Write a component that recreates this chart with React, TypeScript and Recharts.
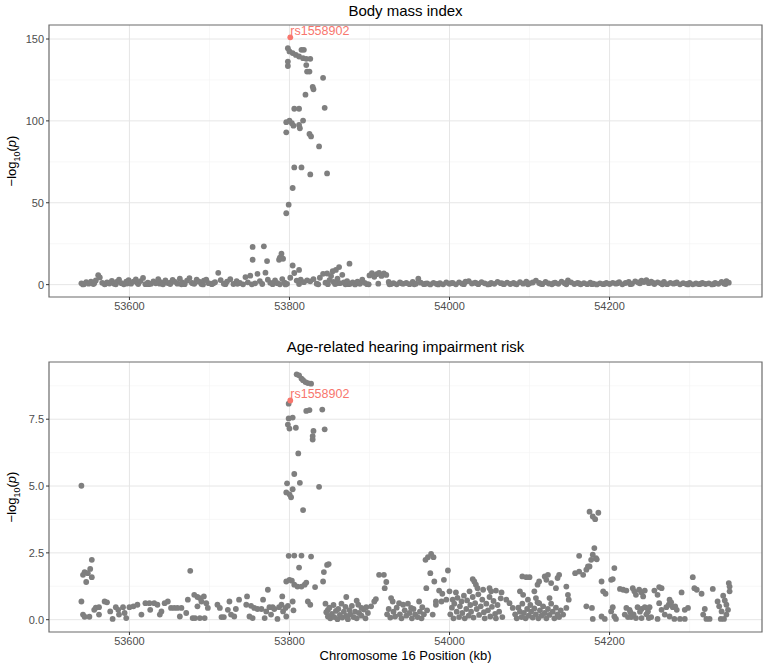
import React from "react";
import {
  ScatterChart,
  Scatter,
  XAxis,
  YAxis,
  CartesianGrid,
  ReferenceArea,
} from "recharts";

// chromosome 16 position (kb), -log10(p)
const leadSnp = "rs1558902";
const leadPos = 53801;
const leadBmi = 151;
const leadHearing = 8.2;

const xTicks = [53600, 53800, 54000, 54200];
const xMinor = [53700, 53900, 54100, 54300];
const bmiTicks = [0, 50, 100, 150];
const bmiMinor = [25, 75, 125];
const hearingTicks = [0, 2.5, 5, 7.5];
const hearingMinor = [1.25, 3.75, 6.25, 8.75];

const bmiPeak: [number, number][] = [
  [53798, 144.4], [53800, 142.4], [53804, 141.4], [53808, 140.3], [53815, 143.4], [53818, 143.4],
  [53812, 139.3], [53817, 138.3], [53821, 137.9], [53826, 137.9], [53798, 136.2], [53798, 133.5],
  [53821, 134.1], [53822, 130.1], [53825, 130.1], [53842, 126.3], [53829, 120.8], [53830, 119.3],
  [53820, 116], [53806, 107.4], [53812, 107.4], [53844, 108], [53800, 100.2], [53796, 99.2],
  [53803, 98.6], [53805, 97.1], [53817, 100.2], [53812, 97.5], [53813, 95.5], [53796, 93],
  [53825, 92], [53827, 90.5], [53837, 84.4], [53806, 71.6], [53815, 71.6], [53826, 67.3],
  [53847, 67.9], [53804, 59], [53799, 48.8], [53796, 43.6], [53754, 23], [53768, 23.4],
  [53754, 15.2], [53772, 14.4], [53790, 18.9], [53788, 16.5], [53792, 15.8], [53787, 15.2],
  [53804, 11.7], [53812, 9], [53875, 12.8], [53862, 10.7], [53858, 9], [53854, 8.2], [53847, 6.8],
];

const bmiBackground: [number, number][] = [
  [53540, 0.8], [53543, 0.3], [53546, 1.5], [53549, 0.6], [53552, 1.9], [53555, 0.4], [53558, 2.6],
  [53561, 5.8], [53563, 4.4], [53566, 1.1], [53569, 0.2], [53572, 1.4], [53575, 0.7], [53578, 2.3],
  [53581, 0.5], [53584, 1.6], [53587, 3.1], [53590, 0.9], [53593, 0.2], [53596, 1.8], [53599, 2.7],
  [53602, 0.6], [53605, 1.9], [53608, 3.2], [53611, 0.4], [53614, 2.2], [53617, 4.1], [53620, 0.3],
  [53623, 1.2], [53627, 0.5], [53630, 2.0], [53633, 0.8], [53636, 3.4], [53639, 1.5], [53642, 0.2],
  [53645, 2.6], [53648, 1.0], [53651, 0.4], [53654, 2.9], [53657, 1.7], [53660, 0.6], [53663, 3.6],
  [53666, 1.3], [53669, 0.3], [53672, 2.4], [53675, 4.0], [53678, 1.1], [53681, 0.5], [53684, 3.0],
  [53687, 1.8], [53690, 0.4], [53693, 2.5], [53696, 3.1], [53699, 0.9],
  [53703, 0.3], [53707, 1.5], [53711, 7.2], [53714, 2.8], [53718, 0.6], [53722, 1.9], [53726, 3.3],
  [53730, 0.4], [53734, 2.1], [53738, 1.0], [53742, 0.2], [53745, 4.6], [53748, 1.4], [53751, 5.5],
  [53757, 0.8], [53760, 6.6], [53763, 2.2], [53766, 0.4], [53770, 7.3], [53773, 3.0], [53776, 1.1],
  [53779, 0.3], [53782, 2.6], [53785, 0.9], [53788, 0.2], [53791, 3.4], [53794, 1.2], [53797, 0.5],
  [53801, 4.2], [53806, 7.1], [53809, 2.5], [53814, 3.1], [53818, 1.5], [53822, 2.6], [53826, 2.0],
  [53830, 3.4], [53834, 0.6], [53838, 4.2], [53842, 6.6], [53845, 1.2], [53848, 0.3], [53850, 2.8],
  [53852, 5.3], [53855, 1.7], [53857, 0.4], [53860, 3.6], [53863, 0.9], [53866, 6.0], [53868, 1.3],
  [53870, 0.2], [53872, 2.1], [53876, 0.6], [53879, 1.4], [53882, 0.1], [53885, 1.9], [53888, 0.5],
  [53891, 3.0], [53894, 1.1], [53897, 0.3],
  [53900, 5.6], [53903, 7.0], [53906, 4.8], [53909, 6.4], [53912, 7.1], [53915, 5.3], [53918, 6.8],
  [53921, 5.9], [53924, 1.6], [53927, 0.4], [53930, 0.9], [53934, 0.2], [53938, 1.3], [53942, 0.5],
  [53946, 1.0], [53950, 0.3], [53954, 1.6], [53958, 0.6], [53961, 3.6], [53964, 1.2], [53968, 0.3],
  [53972, 0.8], [53976, 0.1], [53980, 1.1], [53984, 0.4], [53988, 0.9], [53992, 0.2], [53996, 1.3],
  [54000, 0.5], [54004, 1.0], [54008, 0.2], [54012, 1.4], [54016, 0.6], [54020, 1.8], [54024, 2.2],
  [54028, 0.7], [54032, 1.2], [54036, 0.3], [54040, 1.5], [54044, 0.8], [54048, 0.1], [54052, 1.1],
  [54056, 0.5], [54060, 1.7], [54064, 0.9], [54068, 0.3], [54072, 1.2], [54076, 0.4], [54080, 1.0],
  [54084, 0.2], [54088, 1.5], [54092, 0.6], [54096, 1.9],
  [54100, 0.8], [54104, 1.3], [54108, 2.5], [54112, 1.0], [54116, 0.3], [54120, 1.6], [54124, 0.7],
  [54128, 0.2], [54132, 1.2], [54136, 0.5], [54140, 1.8], [54144, 0.9], [54148, 2.6], [54152, 1.4],
  [54156, 0.4], [54160, 1.1], [54164, 0.2], [54168, 0.9], [54172, 0.3], [54176, 1.2], [54180, 0.6],
  [54184, 0.1], [54188, 0.8], [54192, 0.3], [54196, 1.0],
  [54200, 0.4], [54204, 1.1], [54208, 0.6], [54212, 1.5], [54216, 0.2], [54220, 1.0], [54224, 1.7],
  [54228, 0.5], [54232, 2.0], [54236, 1.3], [54240, 2.4], [54243, 1.6], [54246, 2.8], [54249, 0.9],
  [54252, 1.9], [54256, 0.4], [54260, 1.4], [54264, 0.8], [54268, 1.7], [54272, 0.3], [54276, 1.1],
  [54280, 0.6], [54284, 1.3], [54288, 0.2], [54292, 0.9], [54296, 0.4], [54300, 1.0], [54304, 0.2],
  [54308, 0.7], [54312, 0.3], [54316, 1.1], [54320, 0.4], [54324, 0.8], [54328, 0.1], [54332, 1.0],
  [54336, 0.5], [54340, 1.6], [54343, 0.7], [54346, 2.1], [54349, 1.2],
];

const bmiBaselineExtra: [number, number][] = [
  [53542, 0.1], [53556, 0.9], [53570, 0.5], [53583, 0.2], [53597, 0.7], [53610, 1.1], [53624, 0.3],
  [53638, 0.6], [53652, 1.4], [53665, 0.2], [53679, 0.8], [53692, 0.1], [53705, 0.9], [53720, 0.3],
  [53735, 0.5], [53753, 0.2], [53780, 1.0], [53795, 0.1], [53812, 0.4], [53836, 0.2], [53859, 0.8],
  [53874, 0.3], [53886, 0.9], [53899, 0.2], [53911, 0.6], [53925, 0.2], [53940, 0.8], [53956, 0.2],
  [53970, 0.6], [53986, 0.1], [54002, 0.9], [54018, 0.3], [54034, 0.8], [54050, 0.3], [54066, 0.7],
  [54082, 0.5], [54098, 0.2], [54114, 0.6], [54130, 0.9], [54146, 0.2], [54162, 0.7], [54178, 0.3],
  [54194, 0.5], [54210, 0.9], [54226, 0.3], [54238, 0.8], [54254, 1.2], [54266, 0.2], [54282, 0.9],
  [54298, 0.1], [54314, 0.6], [54330, 0.3], [54345, 0.4],
];

const hearingPeak: [number, number][] = [
  [53799, 8.08], [53809, 9.18], [53812, 9.14], [53815, 9.02], [53817, 8.96], [53820, 8.89],
  [53823, 8.85], [53827, 8.83], [53821, 7.81], [53825, 7.84], [53841, 7.86], [53799, 7.53],
  [53804, 7.56], [53798, 7.3], [53800, 7.15], [53808, 7.18], [53830, 7.06], [53829, 6.87],
  [53829, 6.74], [53844, 7.12], [53811, 6.22], [53806, 5.45], [53797, 5.1], [53813, 5.12],
  [53796, 4.76], [53800, 4.69], [53804, 4.88], [53802, 4.58], [53837, 4.97], [53817, 4.1],
];

const hearingBackground: [number, number][] = [
  [53540, 5.01],
  [53553, 2.24], [53551, 1.9], [53544, 1.78], [53542, 1.68], [53548, 1.74], [53553, 1.59], [53546, 1.41],
  [53540, 0.68], [53542, 0.19], [53544, 0.11], [53550, 0.11], [53556, 0.37], [53558, 0.45], [53562, 0.47],
  [53569, 0.68], [53572, 0.65], [53562, 0.19], [53576, 0.31], [53579, 0.03], [53583, 0.47], [53586, 0.37],
  [53587, 0.19], [53592, 0.47], [53594, 0.25], [53596, 0.06], [53600, 0.47], [53605, 0.5], [53610, 0.56],
  [53615, 0.19], [53620, 0.62], [53625, 0.62], [53626, 0.37], [53631, 0.62], [53635, 0.56], [53638, 0.19],
  [53640, 0.31], [53644, 0.62], [53648, 0.68], [53652, 0.44], [53656, 0.44], [53660, 0.44], [53663, 0.12],
  [53665, 0.44], [53671, 0.25], [53673, 0.75], [53676, 1.83], [53679, 0.06], [53681, 0.93], [53685, 0.85],
  [53688, 0.81], [53690, 0.68], [53685, 0.5], [53693, 0.87], [53696, 0.62], [53698, 0.44], [53682, 0.06],
  [53688, 0.06], [53694, 0.06], [53710, 0.56], [53713, 0.44], [53715, 0.1], [53718, 0.1], [53723, 0.37],
  [53725, 0.68], [53727, 0.19], [53731, 0.12], [53733, 0.4], [53737, 0.75],
  [53747, 0.87], [53746, 0.56], [53752, 0.52], [53756, 0.44], [53760, 0.4], [53765, 0.4], [53767, 0.75],
  [53773, 1.12], [53750, 0.12], [53754, 0.06], [53769, 0.06], [53771, 0.31], [53775, 0.47], [53779, 0.47],
  [53777, 0.19], [53781, 0.4], [53785, 0.03], [53787, 0.47], [53790, 0.56], [53791, 0.87], [53792, 0.31],
  [53795, 0.44], [53796, 0.12], [53798, 0.52], [53804, 0.68], [53805, 0.35], [53796, 1.43], [53800, 1.49],
  [53803, 1.46], [53806, 1.31], [53810, 1.24], [53815, 1.24], [53819, 1.31], [53821, 1.39], [53799, 2.39],
  [53806, 2.4], [53815, 2.4], [53827, 2.36], [53812, 1.95], [53823, 0.68], [53826, 0.56], [53832, 1.22],
  [53842, 1.43], [53843, 1.78], [53847, 2.05], [53849, 2.08], [53845, 0.6], [53848, 0.37],
  [53846, 0.28], [53848, 0.12], [53850, 0.45], [53851, 0.05], [53853, 0.22], [53855, 0.55], [53856, 0.1],
  [53858, 0.33], [53860, 0.02], [53861, 0.4], [53863, 0.18], [53865, 0.6], [53866, 0.08], [53868, 0.3],
  [53870, 0.48], [53871, 0.14], [53873, 0.02], [53875, 0.36], [53876, 0.2], [53878, 0.52], [53880, 0.1],
  [53882, 0.3], [53884, 0.05], [53887, 0.25], [53890, 0.15], [53893, 0.38], [53895, 0.05],
  [53871, 0.85], [53884, 0.71], [53886, 0.56], [53890, 0.44], [53896, 0.47], [53902, 0.5], [53906, 0.68],
  [53908, 0.77], [53898, 0.25], [53912, 1.68], [53918, 1.68], [53921, 1.41], [53919, 1.18], [53927, 0.81],
  [53929, 0.68], [53937, 0.62], [53942, 0.56], [53948, 0.6], [53952, 0.44], [53962, 0.68], [53966, 0.47],
  [53922, 0.2], [53924, 0.4], [53926, 0.08], [53930, 0.3], [53932, 0.12], [53934, 0.45], [53938, 0.2],
  [53940, 0.05], [53944, 0.35], [53946, 0.15], [53950, 0.25], [53953, 0.05], [53955, 0.4], [53957, 0.2],
  [53960, 0.1], [53963, 0.3], [53965, 0.05], [53968, 0.2], [53972, 0.35],
  [53971, 1.18], [53976, 1.74], [53970, 2.24], [53973, 2.34], [53977, 2.46], [53980, 2.34], [53981, 1.43],
  [53983, 0.68], [53979, 0.19], [53993, 1.49], [53998, 1.84], [53987, 1.09], [53991, 0.97], [54000, 1.06],
  [53983, 0.56], [53990, 0.68], [53996, 0.75], [54004, 0.75], [54008, 1.02],
  [54001, 0.2], [54003, 0.45], [54005, 0.05], [54006, 0.6], [54009, 0.3], [54010, 0.82], [54012, 0.1],
  [54013, 0.5], [54015, 0.68], [54016, 0.25], [54018, 0.9], [54019, 0.05], [54021, 0.4], [54022, 0.72],
  [54024, 0.15], [54026, 0.55], [54027, 0.3], [54029, 0.85], [54030, 0.08], [54032, 0.62], [54034, 0.4],
  [54036, 0.95], [54037, 0.18], [54039, 0.5], [54041, 0.75], [54043, 0.28], [54044, 0.05], [54046, 0.6],
  [54048, 0.35], [54050, 0.85], [54051, 0.12], [54053, 0.48], [54055, 0.7], [54057, 0.22], [54058, 0.05],
  [54060, 0.55], [54062, 0.3], [54064, 0.8], [54066, 0.1],
  [54029, 1.52], [54031, 1.43], [54033, 1.31], [54035, 1.18], [54025, 1.06], [54042, 1.12], [54050, 1.18],
  [54052, 1.06], [54058, 1.09], [54065, 1.02], [54071, 0.75], [54075, 0.62], [54079, 0.44], [54091, 1.62],
  [54096, 1.59], [54100, 1.59], [54088, 1.06], [54092, 0.93], [54098, 0.75], [54106, 1.06], [54110, 1.31],
  [54112, 1.43], [54119, 1.62], [54123, 1.68], [54121, 1.49], [54127, 1.37], [54135, 1.56], [54137, 1.68],
  [54133, 1.18], [54125, 0.81], [54108, 0.81], [54112, 0.62], [54146, 1.24], [54148, 0.93], [54149, 0.75],
  [54146, 0.44], [54142, 0.19],
  [54082, 0.2], [54084, 0.05], [54086, 0.45], [54088, 0.3], [54090, 0.1], [54091, 0.6], [54093, 0.25],
  [54095, 0.05], [54097, 0.4], [54099, 0.15], [54101, 0.55], [54102, 0.3], [54104, 0.08], [54106, 0.42],
  [54108, 0.2], [54110, 0.65], [54111, 0.05], [54113, 0.35], [54115, 0.15], [54117, 0.5], [54119, 0.25],
  [54121, 0.05], [54123, 0.4], [54125, 0.18], [54127, 0.6], [54129, 0.3], [54131, 0.05], [54133, 0.45],
  [54135, 0.2], [54137, 0.1], [54139, 0.35],
  [54157, 1.74], [54162, 1.8], [54167, 1.68], [54162, 2.39], [54171, 1.87], [54173, 1.99], [54177, 2.24],
  [54179, 2.43], [54181, 2.68], [54171, 0.5], [54178, 0.44], [54179, 0.03], [54175, 4.04], [54179, 3.86],
  [54182, 3.76], [54186, 4.0], [54184, 2.26], [54183, 2.3], [54206, 1.93], [54175, 1.99], [54190, 1.43],
  [54202, 1.49], [54204, 1.52], [54192, 1.06], [54195, 0.97], [54190, 0.12], [54194, 0.03], [54204, 0.47],
  [54202, 0.31], [54206, 0.12], [54208, 0.03], [54213, 1.15], [54217, 1.12], [54221, 1.09], [54229, 1.18],
  [54231, 1.06], [54233, 0.93], [54237, 1.12], [54240, 1.02], [54244, 1.09], [54242, 0.87], [54256, 1.09],
  [54262, 1.22], [54265, 1.18], [54260, 0.93], [54221, 0.44], [54225, 0.37], [54219, 0.19], [54223, 0.1],
  [54227, 0.1], [54235, 0.47], [54240, 0.4], [54244, 0.47], [54248, 0.31], [54249, 0.06], [54250, 0.47],
  [54233, 0.06], [54240, 0.06], [54226, 0.28], [54230, 0.2], [54238, 0.3], [54246, 0.2], [54252, 0.1],
  [54262, 0.62], [54265, 0.37], [54260, 0.03], [54269, 0.19], [54271, 0.47], [54275, 0.75], [54274, 0.56],
  [54277, 0.65], [54279, 0.47], [54282, 0.5], [54284, 0.37], [54275, 0.12], [54281, 0.03], [54288, 0.03],
  [54294, 0.03], [54290, 1.02], [54294, 0.37], [54298, 0.44], [54304, 1.59], [54306, 1.18], [54309, 1.12],
  [54315, 0.97], [54319, 0.4], [54317, 0.19], [54321, 0.03], [54325, 0.03], [54329, 1.15], [54335, 0.68],
  [54337, 0.5], [54340, 0.31], [54342, 0.9], [54344, 0.72], [54346, 0.56], [54348, 0.37], [54349, 1.37],
  [54350, 1.24], [54350, 1.06], [54346, 0.19], [54339, 0.03], [54343, 0.03],
];

const FONT = '"Liberation Sans", Arial, Helvetica, sans-serif';
const GREY = "#7f7f7f";
const LEAD = "#F8766D";
const xDomain: [number, number] = [53499.5, 54390.5];

const toRows = (pts: [number, number][]) => pts.map(([x, y]) => ({ x, y }));

const Dot = (p: any) => <circle cx={p.cx} cy={p.cy} r={2.9} fill={GREY} />;

const LeadDot = (p: any) => (
  <g>
    <circle cx={p.cx} cy={p.cy} r={2.9} fill={LEAD} />
    <text x={p.cx} y={p.cy - 2} fill={LEAD} fontSize={12.5} fontFamily={FONT}>
      {leadSnp}
    </text>
  </g>
);

function Panel({
  rows,
  leadY,
  yDomain,
  yTicks,
  yMinor,
  fmt,
  height,
  margin,
}: {
  rows: { x: number; y: number }[];
  leadY: number;
  yDomain: [number, number];
  yTicks: number[];
  yMinor: number[];
  fmt: (v: number) => string;
  height: number;
  margin: { top: number; right: number; bottom: number; left: number };
}) {
  const tick = { fill: "#4d4d4d", fontSize: 11, fontFamily: FONT };
  return (
    <ScatterChart width={767} height={height} margin={margin}>
      <CartesianGrid verticalValues={xMinor} horizontalValues={yMinor} stroke="#f3f3f3" strokeWidth={0.6} />
      <CartesianGrid verticalValues={xTicks} horizontalValues={yTicks} stroke="#e6e6e6" strokeWidth={1} />
      <XAxis
        type="number"
        dataKey="x"
        domain={xDomain}
        ticks={xTicks}
        allowDataOverflow
        interval={0}
        height={20}
        tickSize={3}
        tick={tick}
        axisLine={false}
        tickLine={{ stroke: "#333" }}
      />
      <YAxis
        type="number"
        dataKey="y"
        domain={yDomain}
        ticks={yTicks}
        allowDataOverflow
        interval={0}
        width={30}
        tickSize={3}
        tick={tick}
        tickFormatter={fmt}
        axisLine={false}
        tickLine={{ stroke: "#333" }}
      />
      <ReferenceArea
        x1={xDomain[0]}
        x2={xDomain[1]}
        y1={yDomain[0]}
        y2={yDomain[1]}
        fill="none"
        fillOpacity={0}
        stroke="#6b6b6b"
        strokeWidth={1.2}
        ifOverflow="visible"
      />
      <Scatter data={rows} shape={Dot} isAnimationActive={false} />
      <Scatter data={[{ x: leadPos, y: leadY }]} shape={LeadDot} isAnimationActive={false} />
    </ScatterChart>
  );
}

function YTitle({ top }: { top: number }) {
  return (
    <div
      style={{
        position: "absolute",
        left: 13,
        top,
        transform: "translate(-50%, -50%) rotate(-90deg)",
        whiteSpace: "nowrap",
        fontSize: 13,
        fontFamily: FONT,
        color: "#000",
      }}
    >
      −log<sub style={{ fontSize: 9 }}>10</sub>(<i>p</i>)
    </div>
  );
}

const titleStyle: React.CSSProperties = {
  position: "absolute",
  left: 49,
  width: 713,
  textAlign: "center",
  fontSize: 15,
  fontFamily: FONT,
  color: "#000",
  lineHeight: "18px",
};

export default function App() {
  return (
    <div style={{ position: "absolute", left: 0, top: 0, width: 767, height: 669, background: "#fff" }}>
      <div style={{ ...titleStyle, top: 2 }}>Body mass index</div>
      <div style={{ position: "absolute", left: 0, top: 0 }}>
        <Panel
          rows={[...toRows(bmiBaselineExtra), ...toRows(bmiBackground), ...toRows(bmiPeak)]}
          leadY={leadBmi}
          yDomain={[-7.55, 158.55]}
          yTicks={bmiTicks}
          yMinor={bmiMinor}
          fmt={(v) => String(v)}
          height={320}
          margin={{ top: 25, right: 5, bottom: 3, left: 19 }}
        />
      </div>
      <YTitle top={161} />

      <div style={{ ...titleStyle, top: 338 }}>Age-related hearing impairment risk</div>
      <div style={{ position: "absolute", left: 0, top: 320 }}>
        <Panel
          rows={[...toRows(hearingBackground), ...toRows(hearingPeak)]}
          leadY={leadHearing}
          yDomain={[-0.46, 9.64]}
          yTicks={hearingTicks}
          yMinor={hearingMinor}
          fmt={(v) => v.toFixed(1)}
          height={349}
          margin={{ top: 42, right: 5, bottom: 17, left: 19 }}
        />
      </div>
      <YTitle top={497} />
      <div
        style={{
          position: "absolute",
          left: 49,
          width: 713,
          top: 648,
          textAlign: "center",
          fontSize: 13,
          fontFamily: FONT,
          color: "#000",
        }}
      >
        Chromosome 16 Position (kb)
      </div>
    </div>
  );
}
